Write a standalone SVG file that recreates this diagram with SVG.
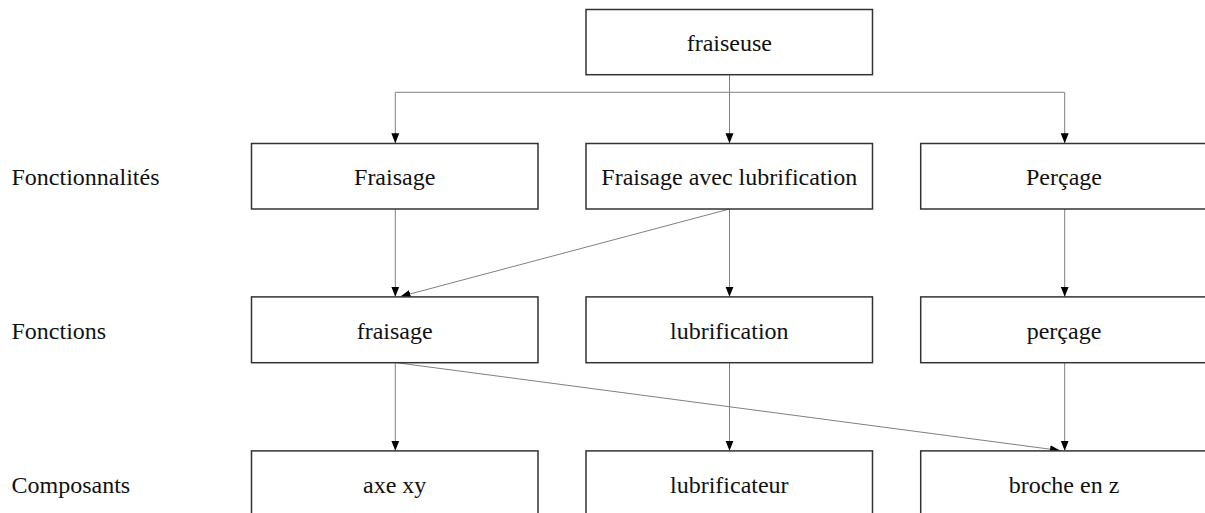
<svg xmlns="http://www.w3.org/2000/svg" width="1205" height="513" viewBox="0 0 1205 513">
  <style>
    .box rect { fill: #ffffff; stroke: #333333; stroke-width: 1.5; }
    .box text, .lbl { font-family: "Liberation Serif", "Times New Roman", serif; font-size: 24px; fill: #111111; }
    .box text { text-anchor: middle; }
    .edge { fill: none; stroke: #808080; stroke-width: 1; marker-end: url(#arrow); }
    .trunk { fill: none; stroke: #808080; stroke-width: 1; }
  </style>
  <defs>
    <marker id="arrow" markerUnits="userSpaceOnUse" markerWidth="10" markerHeight="10" viewBox="0 0 10 10" refX="10" refY="5" orient="auto">
      <path d="M0,1 L10,5 L0,9 Z" fill="#000000"/>
    </marker>
  </defs>
  <rect width="1205" height="513" fill="#ffffff"/>

  <!-- row labels -->
  <g id="labels">
    <text class="lbl" x="11.5" y="184.5">Fonctionnalités</text>
    <text class="lbl" x="11.5" y="339">Fonctions</text>
    <text class="lbl" x="11.5" y="492.5">Composants</text>
  </g>

  <!-- connectors -->
  <g id="connectors">
    <path class="trunk" d="M729.5,74.7 V92.3 M395.3,92.3 H1064.7"/>
    <path class="edge" d="M395.3,92.3 V143.3"/>
    <path class="edge" d="M729.5,74.7 V143.3"/>
    <path class="edge" d="M1064.7,92.3 V143.3"/>
    <path class="edge" d="M395.3,209 V296.7"/>
    <path class="edge" d="M729.5,209 L400.5,296.5"/>
    <path class="edge" d="M729.5,209 V296.7"/>
    <path class="edge" d="M1064.7,209 V296.7"/>
    <path class="edge" d="M395.3,362.7 V450.7"/>
    <path class="edge" d="M396.5,362.7 L1060,450.5"/>
    <path class="edge" d="M729.5,362.7 V450.7"/>
    <path class="edge" d="M1064.7,362.7 V450.7"/>
  </g>

  <g id="fraiseuse" class="box">
    <rect x="586" y="9.5" width="286.5" height="65.2"/>
    <text x="729.3" y="51">fraiseuse</text>
  </g>

  <g id="Fraisage" class="box">
    <rect x="251.5" y="143.5" width="286.5" height="65.5"/>
    <text x="394.7" y="184.5">Fraisage</text>
  </g>
  <g id="FraisageLubrification" class="box">
    <rect x="586" y="143.5" width="286.5" height="65.5"/>
    <text x="729.3" y="184.5">Fraisage avec lubrification</text>
  </g>
  <g id="Percage" class="box">
    <rect x="920.7" y="143.5" width="286.5" height="65.5"/>
    <text x="1064" y="184.5">Perçage</text>
  </g>

  <g id="fraisage" class="box">
    <rect x="251.5" y="296.9" width="286.5" height="65.8"/>
    <text x="394.7" y="338.5">fraisage</text>
  </g>
  <g id="lubrification" class="box">
    <rect x="586" y="296.9" width="286.5" height="65.8"/>
    <text x="729.3" y="338.5">lubrification</text>
  </g>
  <g id="percage" class="box">
    <rect x="920.7" y="296.9" width="286.5" height="65.8"/>
    <text x="1064" y="338.5">perçage</text>
  </g>

  <g id="axexy" class="box">
    <rect x="251.5" y="450.9" width="286.5" height="66"/>
    <text x="394.7" y="492.5">axe xy</text>
  </g>
  <g id="lubrificateur" class="box">
    <rect x="586" y="450.9" width="286.5" height="66"/>
    <text x="729.3" y="492.5">lubrificateur</text>
  </g>
  <g id="brocheEnZ" class="box">
    <rect x="920.7" y="450.9" width="286.5" height="66"/>
    <text x="1064" y="492.5">broche en z</text>
  </g>
</svg>
